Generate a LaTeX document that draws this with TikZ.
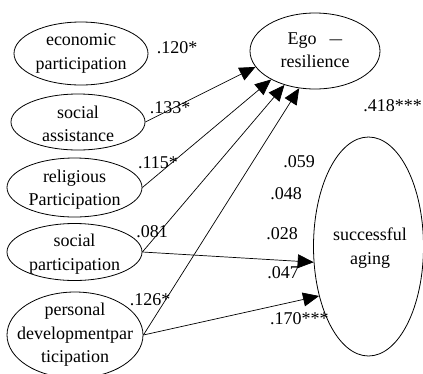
\documentclass[tikz,border=0pt]{standalone}
\usepackage{fontspec}
\setmainfont{Liberation Serif}
\usetikzlibrary{shapes.geometric,arrows.meta}
\begin{document}
\begin{tikzpicture}[x=1pt,y=-1pt,
  ell/.style={draw=black,line width=0.8pt,shape=ellipse,inner sep=0pt},
  txt/.style={align=center,inner sep=0pt,font=\fontsize{18}{23.5}\selectfont},
  coef/.style={inner sep=0pt,font=\fontsize{18}{22}\selectfont},
  arr/.style={draw=black,line width=0.7pt,-{Triangle[length=16pt,width=14pt]}}]
\useasboundingbox (0,0) rectangle (423,373);
\fill[white] (0,0) rectangle (423,373);
% left ellipses
\node[ell,minimum width=134pt,minimum height=63pt,
  label={[txt]center:economic\\participation}] (econ) at (81,53.5) {};
\node[ell,minimum width=134pt,minimum height=56pt,
  label={[txt,yshift=-2pt]center:social\\assistance}] (assist) at (78,122) {};
\node[ell,minimum width=135pt,minimum height=59pt,
  label={[txt,yshift=-2pt]center:religious\\Participation}] (relig) at (74.5,187.5) {};
\node[ell,minimum width=135pt,minimum height=57pt,
  label={[txt,yshift=-2pt]center:social\\participation}] (socpart) at (74.5,252) {};
\node[ell,minimum width=136pt,minimum height=86pt,
  label={[txt]center:personal\\developmentpar\\ticipation}] (persdev) at (75,335) {};
% right ellipses
\node[ell,minimum width=130pt,minimum height=76pt,
  label={[txt,yshift=1pt]center:Ego\hspace{0.72em}\scalebox{0.7}[1]{—}\\resilience}] (ego) at (315,51) {};
\node[ell,minimum width=110pt,minimum height=219pt,
  label={[txt,xshift=1.5pt,yshift=-1.5pt]center:successful\\aging}] (succ) at (368.5,246.5) {};
% arrows to Ego-resilience
\draw[arr] (assist.east) -- (ego.195.4);
\draw[arr] (relig.east) -- (ego.213.4);
\draw[arr] (socpart.east) -- (ego.228.6);
\draw[arr] (persdev.east) -- (ego.247);
% arrows to successful aging
\draw[arr] (socpart.east) -- (succ.196.8);
\draw[arr] (persdev.east) -- (succ.225);
% coefficients
\node[coef] (c1) at (177,48) {.120*};
\node[coef] (c2) at (170,108) {.133*};
\node[coef] (c3) at (158,163) {.115*};
\node[coef] (c4) at (152,232) {.081};
\node[coef] (c5) at (150,300) {.126*};
\node[coef,anchor=east] (c6) at (422,106) {.418***};
\node[coef] (c7) at (299,162) {.059};
\node[coef] (c8) at (286,194) {.048};
\node[coef] (c9) at (282,234) {.028};
\node[coef] (c10) at (283,273) {.047};
\node[coef,anchor=west] (c11) at (270,319) {.170***};
\end{tikzpicture}
\end{document}
